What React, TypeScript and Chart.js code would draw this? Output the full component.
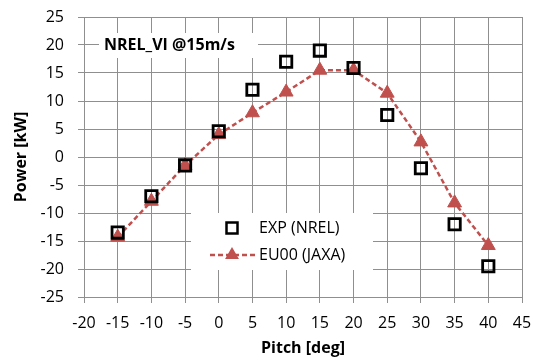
import { useEffect, useRef } from 'react';
import { Chart, registerables } from 'chart.js';

Chart.register(...registerables);

const pitch = [-15, -10, -5, 0, 5, 10, 15, 20, 25, 30, 35, 40];
const expNrel = [-13.5, -7, -1.5, 4.6, 12, 17, 19, 15.9, 7.5, -2, -12, -19.5];
const eu00Jaxa = [-14.3, -7.9, -1.5, 4.0, 7.9, 11.6, 15.5, 15.5, 11.4, 2.7, -8.2, -15.8];
const seriesNames = ['EXP (NREL)', 'EU00 (JAXA)'];
const chartTitle = 'NREL_VI @15m/s';
const xTitle = 'Pitch [deg]';
const yTitle = 'Power [kW]';

const RED = '#C0504D';
const GRID = '#8f8f8f';
const FONT = "'Open Sans', sans-serif";

const overlayPlugin = {
  id: 'overlay',
  afterDatasetsDraw(chart: any) {
    const ctx = chart.ctx as CanvasRenderingContext2D;
    ctx.save();
    // title box
    ctx.fillStyle = '#ffffff';
    ctx.fillRect(99, 33, 159, 25);
    ctx.fillStyle = '#000000';
    ctx.font = `bold 16px ${FONT}`;
    ctx.textBaseline = 'middle';
    ctx.textAlign = 'left';
    ctx.fillText(chartTitle, 104, 45);

    // legend box
    ctx.fillStyle = '#ffffff';
    ctx.fillRect(191, 213, 182, 57);
    // row 1 : square
    ctx.strokeStyle = '#000000';
    ctx.lineWidth = 2.5;
    ctx.strokeRect(232 - 5.5, 228 - 5.5, 11, 11);
    ctx.fillStyle = '#000000';
    ctx.font = `16px ${FONT}`;
    ctx.fillText(seriesNames[0], 259, 228);
    // row 2 : dashed line + triangle
    ctx.strokeStyle = RED;
    ctx.lineWidth = 2.5;
    ctx.setLineDash([5, 3]);
    ctx.beginPath();
    ctx.moveTo(210, 255);
    ctx.lineTo(257, 255);
    ctx.stroke();
    ctx.setLineDash([]);
    const r = 8;
    ctx.fillStyle = RED;
    ctx.beginPath();
    ctx.moveTo(232, 255 - r);
    ctx.lineTo(232 + r * Math.sin((2 * Math.PI) / 3), 255 - r * Math.cos((2 * Math.PI) / 3));
    ctx.lineTo(232 + r * Math.sin((4 * Math.PI) / 3), 255 - r * Math.cos((4 * Math.PI) / 3));
    ctx.closePath();
    ctx.fill();
    ctx.fillStyle = '#000000';
    ctx.fillText(seriesNames[1], 259, 255);
    ctx.restore();
  },
};

export default function App() {
  const ref = useRef<HTMLCanvasElement>(null);
  useEffect(() => {
    document.body.style.margin = '0';
    const canvas = ref.current!;
    const chart = new Chart(canvas, {
      type: 'scatter',
      data: {
        datasets: [
          {
            label: seriesNames[0],
            data: pitch.map((x, i) => ({ x, y: expNrel[i] })),
            pointStyle: 'rect',
            pointRadius: 8,
            pointBorderWidth: 2.8,
            borderColor: '#000000',
            backgroundColor: 'rgba(0,0,0,0)',
            showLine: false,
          },
          {
            label: seriesNames[1],
            data: pitch.map((x, i) => ({ x, y: eu00Jaxa[i] })),
            pointStyle: 'triangle',
            pointRadius: 8,
            pointBorderWidth: 1,
            pointBorderColor: RED,
            pointBackgroundColor: RED,
            borderColor: RED,
            borderWidth: 2.5,
            borderDash: [5, 3],
            showLine: true,
          },
        ],
      },
      options: {
        animation: false,
        responsive: false,
        maintainAspectRatio: false,
        layout: { padding: { top: 17, right: 11, left: 0, bottom: 0 } },
        plugins: { legend: { display: false }, tooltip: { enabled: false }, title: { display: false } },
        scales: {
          x: {
            type: 'linear',
            min: -20,
            max: 45,
            afterFit: (s: any) => { s.height = 64; s.paddingLeft = 0; s.paddingRight = 0; },
            ticks: { stepSize: 5, color: '#000', font: { family: FONT, size: 16 }, padding: 11, maxRotation: 0 },
            grid: { color: GRID, lineWidth: 1, tickLength: 6, drawTicks: true },
            border: { color: GRID, width: 1 },
            title: { display: true, text: xTitle, color: '#000', font: { family: FONT, size: 16, weight: 'bold' }, padding: { top: 0, bottom: 3 } },
          },
          y: {
            type: 'linear',
            min: -25,
            max: 25,
            afterFit: (s: any) => { s.width = 84; s.paddingTop = 0; s.paddingBottom = 0; },
            ticks: { stepSize: 5, color: '#000', font: { family: FONT, size: 16 }, padding: 14 },
            grid: { color: GRID, lineWidth: 1, tickLength: 6, drawTicks: true },
            border: { color: GRID, width: 1 },
            title: { display: true, text: yTitle, color: '#000', font: { family: FONT, size: 16, weight: 'bold' }, padding: { top: 12, bottom: 0 } },
          },
        },
      },
      plugins: [overlayPlugin],
    } as any);
    return () => chart.destroy();
  }, []);
  return (
    <div style={{ width: 533, height: 361, position: 'relative' }}>
      <canvas ref={ref} width={533} height={361} style={{ width: 533, height: 361, display: 'block' }} />
    </div>
  );
}
